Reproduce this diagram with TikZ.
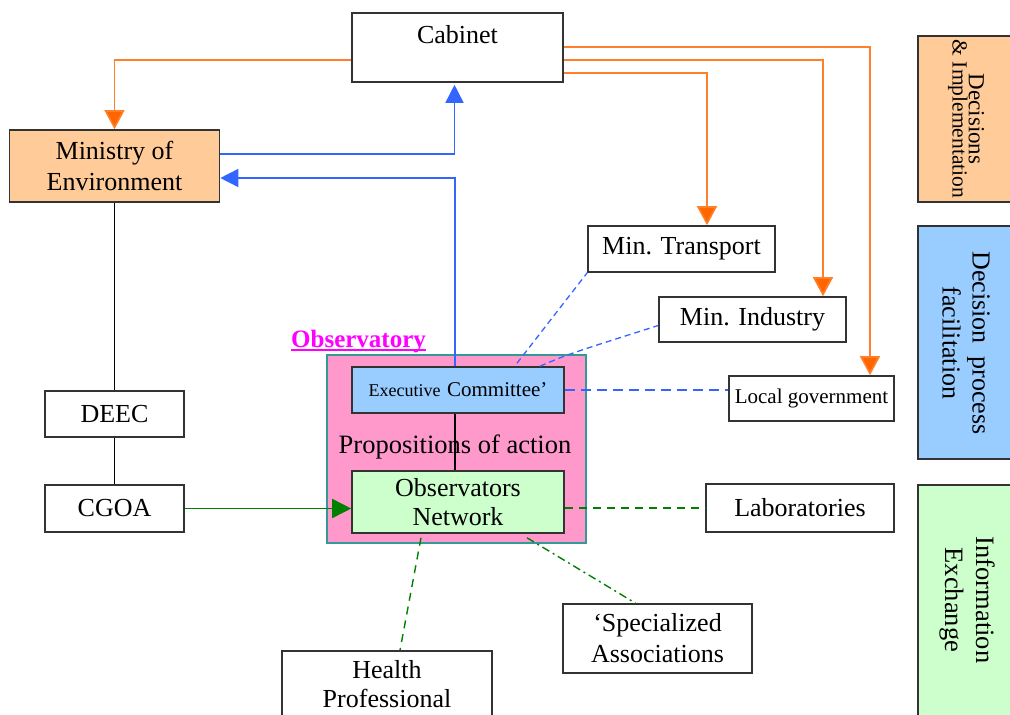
\documentclass[tikz,border=0pt]{standalone}
\usepackage{fontspec}
\setmainfont{Liberation Serif}
\usetikzlibrary{arrows.meta}
\definecolor{orln}{HTML}{FF7F2A}
\definecolor{ortip}{HTML}{FF6600}
\definecolor{bln}{HTML}{3366FF}
\definecolor{gln}{HTML}{008000}
\definecolor{orfill}{HTML}{FFCC99}
\definecolor{bfill}{HTML}{99CCFF}
\definecolor{gfill}{HTML}{CCFFCC}
\definecolor{pfill}{HTML}{FF99CC}
\definecolor{tealb}{HTML}{339999}
\definecolor{bord}{HTML}{333333}
\definecolor{magt}{HTML}{FF00FF}
\begin{document}
\begin{tikzpicture}[x=1pt,y=-1pt,
  box/.style={draw=bord, line width=1.6pt, fill=white, inner sep=0pt, align=center,
    font=\fontsize{26}{31}\selectfont, text=black},
  sidebox/.style={draw=bord, line width=1.6pt, inner sep=0pt},
  sidetext/.style={rotate=-90, align=center, inner sep=0pt, text=black},
  orarrow/.style={draw=orln, line width=1.6pt, -{Triangle[width=20pt,length=19pt,fill=ortip]}},
  blarrow/.style={draw=bln, line width=1.6pt, -{Triangle[width=18pt,length=18pt]}},
  grarrow/.style={draw=gln, line width=1.6pt, -{Triangle[width=19pt,length=19pt]}},
  plain/.style={draw=black, line width=1.6pt},
  bdashthick/.style={draw=bln, line width=2.6pt, dash pattern=on 10pt off 6pt},
  bdashthin/.style={draw=bln, line width=1.3pt, dash pattern=on 6pt off 4pt},
  gdash/.style={draw=gln, line width=1.4pt, dash pattern=on 8pt off 6pt},
  gdashdot/.style={draw=gln, line width=1.4pt, dash pattern=on 8pt off 4pt on 2pt off 4pt}
]
\useasboundingbox (0,0) rectangle (1010,715);
\clip (0,0) rectangle (1010,715);

% side boxes
\node[sidebox, fill=orfill, minimum width=112pt, minimum height=166pt] (decbox) at (974,119) {};
\node[sidetext] (dectext) at (966,119) {{\fontsize{23}{22}\selectfont Decisions}\\{\fontsize{21.5}{22}\selectfont \& Implementation}};
\node[sidebox, fill=bfill, minimum width=112pt, minimum height=233pt] (dpbox) at (974,342.5) {};
\node[sidetext, font=\fontsize{26}{30}\selectfont] (dptext) at (966,343) {Decision\hspace{0.5em}process\\facilitation};
\node[sidebox, fill=gfill, minimum width=112pt, minimum height=260pt] (iebox) at (974,615) {};
\node[sidetext, font=\fontsize{26.5}{31}\selectfont] (ietext) at (967,600) {Information\\Exchange};

% main nodes
\node[box, minimum width=211pt, minimum height=69pt] (cab) at (457.5,47.5) {};
\node[inner sep=0pt, font=\fontsize{26}{31}\selectfont] (cabtext) at (457.5,35) {Cabinet};
\node[box, fill=orfill, minimum width=210pt, minimum height=72pt] (min) at (114.5,166) {Ministry of\\Environment};
\node[box, minimum width=187pt, minimum height=46pt] (mt) at (681.5,249) {Min. Transport};
\node[box, minimum width=187pt, minimum height=45pt] (mi) at (752.5,319.5) {Min. Industry};
\node[box, minimum width=165pt, minimum height=45pt, font=\fontsize{21}{26}\selectfont] (lg) at (811.5,398.5) {Local government};

\node[draw=tealb, line width=1.4pt, fill=pfill, minimum width=259pt, minimum height=188pt, inner sep=0pt] (obsy) at (456.5,449) {};
\node[inner sep=0pt, anchor=base west, font=\fontsize{25}{30}\selectfont\bfseries, text=magt] (obslbl) at (291,347) {Observatory};
\draw[magt, line width=1.5pt] ([yshift=-3pt]obslbl.base west) -- ([yshift=-3pt]obslbl.base east);

\node[box, fill=bfill, minimum width=212pt, minimum height=46pt] (exec) at (458,390)
  {{\fontsize{18}{22}\selectfont Executive} {\fontsize{21}{22}\selectfont Committee'}};
\node[box, fill=gfill, minimum width=212pt, minimum height=62pt, font=\fontsize{26}{29}\selectfont] (obs) at (458,502) {Observators\\Network};
\node[inner sep=0pt, font=\fontsize{26.5}{29}\selectfont] (prop) at (455,447) {Propositions of action};

\node[box, minimum width=139pt, minimum height=46pt] (deec) at (114.5,414) {DEEC};
\node[box, minimum width=139pt, minimum height=47pt] (cgoa) at (114.5,508.5) {CGOA};
\node[box, minimum width=188pt, minimum height=48pt] (lab) at (800,508) {Laboratories};
\node[box, minimum width=189pt, minimum height=69pt] (sa) at (657.5,638.5) {‘Specialized\\Associations};
\node[box, minimum width=210pt, minimum height=74pt] (hp) at (387,688) {};
\node[inner sep=0pt, align=center, font=\fontsize{26}{29}\selectfont] (hptext) at (387,684) {Health\\Professional};

% orange decision arrows
\draw[orarrow] ([yshift=-12.5pt]cab.west) -| (min.north);
\draw[orarrow] ([yshift=0.5pt]cab.east) -| ([xshift=58.5pt]lg.north);
\draw[orarrow] ([yshift=-12.5pt]cab.east) -| ([xshift=70.5pt]mi.north);
\draw[orarrow] ([yshift=-25.5pt]cab.east) -| ([xshift=25.5pt]mt.north);

% blue arrows
\draw[blarrow] ([yshift=12pt]min.east) -| ([xshift=-3pt,yshift=-2pt]cab.south);
\draw[blarrow] ([xshift=-3pt]exec.north) |- ([yshift=-12pt]min.east);

% black links
\draw[plain] (min.south) -- (deec.north);
\draw[plain] (deec.south) -- (cgoa.north);
\draw[plain] ([xshift=-3pt]exec.south) -- ([xshift=-3pt]obs.north);

% green arrow
\draw[grarrow] (cgoa.east) -- (cgoa.east -| obs.west);

% dashed blue
\draw[bdashthick] (exec.east) -- (exec.east -| lg.west);
\draw[bdashthin] ([xshift=59pt,yshift=3pt]exec.north) -- (mt.south west);
\draw[bdashthin] ([xshift=82pt]exec.north) .. controls ([xshift=110pt,yshift=12pt]exec.north) .. ([yshift=-6pt]mi.west);

% dashed green
\draw[gdash] (obs.east |- lab.west) -- (lab.west);
\draw[gdash] ([xshift=-37pt,yshift=-4pt]obs.south) -- ([xshift=13pt]hp.north);
\draw[gdashdot] ([xshift=69pt,yshift=-4pt]obs.south) -- ([xshift=-22pt]sa.north);
\end{tikzpicture}
\end{document}
